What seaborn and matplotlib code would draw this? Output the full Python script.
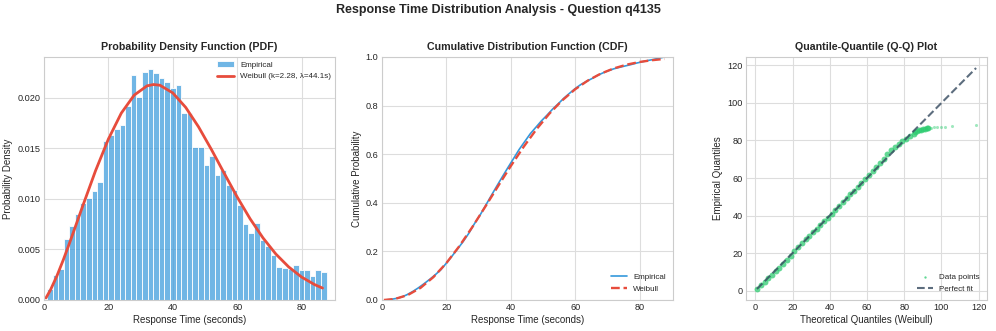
import numpy as np
import pandas as pd
import matplotlib
matplotlib.use("Agg")
import matplotlib.pyplot as plt
import seaborn as sns

# --- data ---
# histogram (density) of response times, 50 equal bins
BIN_MIN, BIN_MAX = 0.9, 87.8
HIST_DENSITY = [
    0.0011, 0.0025, 0.0031, 0.0060, 0.0073, 0.0085, 0.0096, 0.0101, 0.0108, 0.0117,
    0.0157, 0.0163, 0.0169, 0.0173, 0.0192, 0.0223, 0.0201, 0.0226, 0.0229, 0.0225,
    0.0220, 0.0216, 0.0210, 0.0213, 0.0185, 0.0185, 0.0151, 0.0151, 0.0134, 0.0142,
    0.0124, 0.0129, 0.0114, 0.0109, 0.0094, 0.0075, 0.0066, 0.0076, 0.0059, 0.0053,
    0.0045, 0.0033, 0.0032, 0.0031, 0.0035, 0.0030, 0.0030, 0.0024, 0.0030, 0.0028,
]

# fitted Weibull density (k=2.28, lambda=44.1s)
PDF_X = [0.6, 2, 4, 6, 8, 12, 16, 20, 24, 28, 32, 34, 36, 40, 44, 48, 52, 56,
         60, 64, 68, 72, 76, 80, 84, 86.5]
PDF_Y = [0.0002, 0.00099, 0.00238, 0.00398, 0.00570, 0.00928, 0.01279, 0.01593,
         0.01849, 0.02027, 0.02119, 0.02132, 0.02125, 0.02049, 0.01906, 0.01713,
         0.01489, 0.01252, 0.01019, 0.00804, 0.00615, 0.00455, 0.00327, 0.00227,
         0.00153, 0.00118]

# fitted Weibull cumulative curve
CDF_X = [0.6, 4, 8, 12, 16, 20, 24, 28, 32, 36, 40, 44, 48, 52, 56, 60, 64,
         68, 72, 76, 80, 84, 87.8]
CDF_Y = [0.0, 0.0042, 0.0202, 0.0501, 0.0943, 0.1519, 0.2210, 0.2988, 0.3820,
         0.4671, 0.5509, 0.6302, 0.7027, 0.7668, 0.8216, 0.8671, 0.9034, 0.9317,
         0.9530, 0.9685, 0.9795, 0.9870, 0.9920]

# Q-Q points (theoretical Weibull quantile, empirical quantile): dense body
QQ_THEO = [1, 3, 5, 7, 9, 11, 13, 15, 17, 19, 21, 23, 25, 27, 29, 31, 33, 35,
           37, 39, 41, 43, 45, 47, 49, 51, 53, 55, 57, 59, 61, 63, 65, 67, 69,
           71, 73, 75, 77, 79, 81, 83, 85, 86, 87, 88, 89, 90, 91, 92, 93]
QQ_EMP = [1.0, 2.8, 4.7, 6.5, 8.4, 10.3, 12.3, 14.3, 16.5, 18.7, 20.9, 23.1,
          25.2, 27.3, 29.3, 31.2, 33.1, 35.0, 36.9, 38.8, 40.8, 42.8, 44.9,
          47.0, 49.2, 51.3, 53.3, 55.3, 57.3, 59.3, 61.4, 63.6, 65.9, 68.2,
          70.4, 72.6, 74.7, 76.6, 78.2, 79.6, 80.9, 82.3, 83.7, 84.3, 84.9,
          85.4, 85.8, 86.1, 86.3, 86.5, 86.7]
# sparse upper tail
QQ_TAIL_THEO = [94.5, 96, 97.5, 99.5, 101.7, 105.7, 118.6]
QQ_TAIL_EMP = [86.9, 87.0, 87.2, 87.3, 87.4, 87.6, 88.0]
QQ_LINE = [0.9, 118.6]

BLUE = "#3498db"
RED = "#e74c3c"
GREEN = "#2ecc71"
SLATE = "#34495e"

sns.set_style("whitegrid", {"axes.edgecolor": "#cccccc", "grid.color": "#dddddd"})
plt.rcParams["font.family"] = ["Liberation Sans", "DejaVu Sans"]
plt.rcParams["xtick.labelsize"] = 6.6
plt.rcParams["ytick.labelsize"] = 6.6
plt.rcParams["axes.labelsize"] = 7
plt.rcParams["axes.titlesize"] = 7.7
plt.rcParams["axes.titleweight"] = "bold"
plt.rcParams["xtick.major.size"] = 0
plt.rcParams["ytick.major.size"] = 0
plt.rcParams["xtick.major.pad"] = 2.5
plt.rcParams["ytick.major.pad"] = 2.5

fig, (ax1, ax2, ax3) = plt.subplots(1, 3, figsize=(9.96, 3.31), dpi=100)
ax1.set_position([0.0442, 0.0937, 0.2922, 0.7341])
ax2.set_position([0.3835, 0.0937, 0.2922, 0.7341])
ax3.set_position([0.7490, 0.0937, 0.2420, 0.7341])

fig.suptitle("Response Time Distribution Analysis - Question q4135",
             fontsize=9, fontweight="bold", y=0.988)

# --- PDF ---
edges = np.linspace(BIN_MIN, BIN_MAX, len(HIST_DENSITY) + 1)
hist_df = pd.DataFrame({"t": (edges[:-1] + edges[1:]) / 2, "d": HIST_DENSITY})
sns.histplot(data=hist_df, x="t", weights="d", bins=len(HIST_DENSITY),
             binrange=(BIN_MIN, BIN_MAX), stat="count",
             color=BLUE, alpha=0.7, edgecolor="white", linewidth=0.6,
             label="Empirical", ax=ax1)
sns.lineplot(x=PDF_X, y=PDF_Y, color=RED, linewidth=2,
             label="Weibull (k=2.28, \u03bb=44.1s)", ax=ax1)
ax1.set_xlim(0, 90.4)
ax1.set_title("Probability Density Function (PDF)", pad=5)
ax1.set_xlabel("Response Time (seconds)", labelpad=2)
ax1.set_ylabel("Probability Density", labelpad=3)
ax1.set_xticks([0, 20, 40, 60, 80])
ax1.set_yticks([0, 0.005, 0.010, 0.015, 0.020])
ax1.yaxis.set_major_formatter(matplotlib.ticker.FormatStrFormatter("%.3f"))
h, l = ax1.get_legend_handles_labels()
ax1.legend(h[::-1], l[::-1], loc="upper right", fontsize=5.8, frameon=False,
           borderaxespad=0.1)

# --- CDF ---
dens = np.array(HIST_DENSITY)
ecdf = np.concatenate([[0], np.cumsum(dens) / dens.sum()])
sns.lineplot(x=edges, y=ecdf, color=BLUE, linewidth=1.2, label="Empirical", ax=ax2)
sns.lineplot(x=CDF_X, y=CDF_Y, color=RED, linewidth=1.7, linestyle="--",
             label="Weibull", ax=ax2)
ax2.set_xlim(0, 90.4)
ax2.set_ylim(0, 1)
ax2.set_title("Cumulative Distribution Function (CDF)", pad=5)
ax2.set_xlabel("Response Time (seconds)", labelpad=2)
ax2.set_ylabel("Cumulative Probability", labelpad=3)
ax2.set_xticks([0, 20, 40, 60, 80])
ax2.legend(loc="lower right", fontsize=5.8, frameon=False)

# --- Q-Q ---
sns.scatterplot(x=QQ_THEO, y=QQ_EMP, color=GREEN, alpha=0.75, s=18,
                linewidth=0, label="Data points", ax=ax3)
sns.scatterplot(x=QQ_TAIL_THEO, y=QQ_TAIL_EMP, color=GREEN, alpha=0.45, s=5,
                linewidth=0, ax=ax3)
sns.lineplot(x=QQ_LINE, y=QQ_LINE, color=SLATE, alpha=0.8, linewidth=1.5,
             linestyle="--", label="Perfect fit", ax=ax3)
ax3.set_title("Quantile-Quantile (Q-Q) Plot", pad=5)
ax3.set_xlabel("Theoretical Quantiles (Weibull)", labelpad=2)
ax3.set_ylabel("Empirical Quantiles", labelpad=3)
ax3.set_xticks([0, 20, 40, 60, 80, 100, 120])
ax3.set_yticks([0, 20, 40, 60, 80, 100, 120])
ax3.legend(loc="lower right", fontsize=5.8, frameon=False, markerscale=0.4)

plt.savefig("out.png", dpi=100)
